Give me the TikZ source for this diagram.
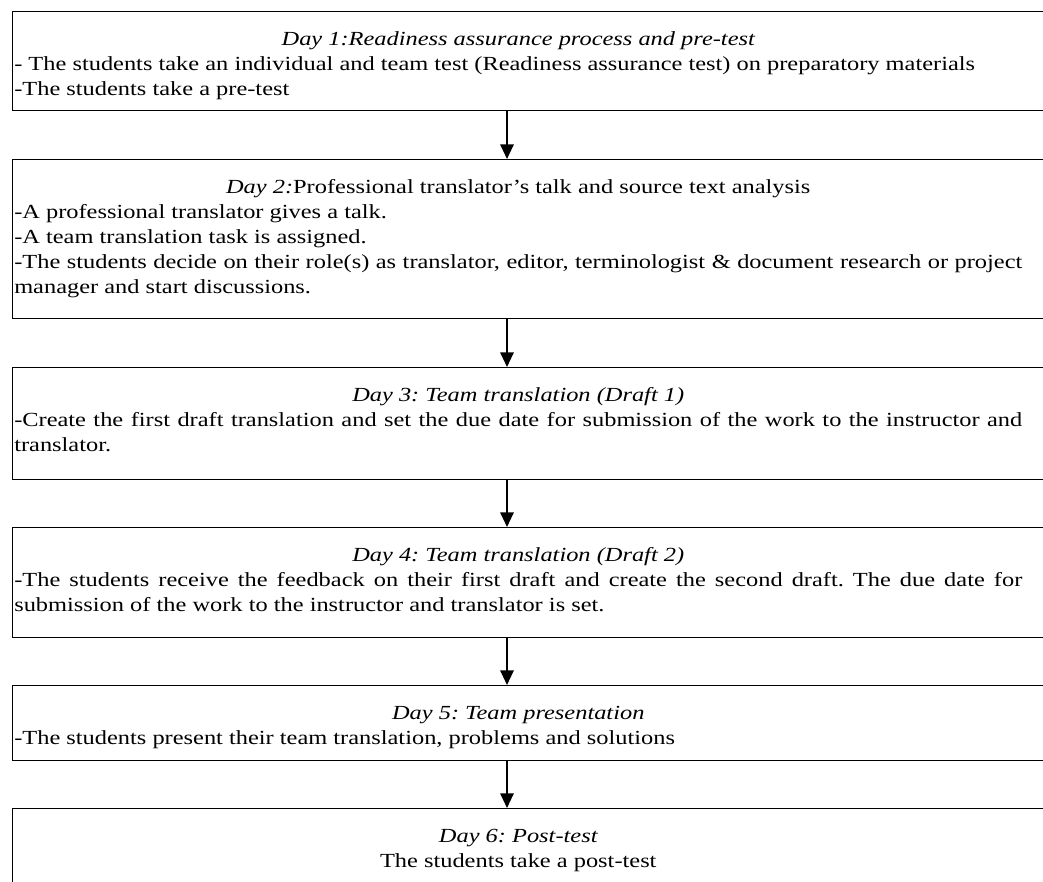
\documentclass[tikz,border=0pt]{standalone}
\usepackage{fontspec}
\setmainfont[FakeStretch=1.22]{Liberation Serif}
\usetikzlibrary{arrows.meta}
\newlength\tw \setlength\tw{756pt}
\newcommand\hdr[1]{\makebox[\tw]{#1}}
\frenchspacing
\begin{document}
\begin{tikzpicture}[x=0.75pt,y=-0.75pt,
  stepbox/.style={draw, line width=1.1pt, anchor=north west, inner sep=0pt, minimum width=800pt},
  txt/.style={anchor=base west, inner sep=0pt, text width=\tw, align=justify, font=\fontsize{15}{18.75}\selectfont},
  flow/.style={line width=1.5pt, -{Triangle[length=11pt,width=10pt]}}]
\clip (0,0) rectangle (1043,882);
\fill[white] (0,0) rectangle (1043,882);
\coordinate (ax) at (507,0);
% boxes
\node[stepbox, minimum height={99*0.75pt}]  (b1) at (12,11) {};
\node[stepbox, minimum height={159*0.75pt}] (b2) at (12,159) {};
\node[stepbox, minimum height={112*0.75pt}] (b3) at (12,367) {};
\node[stepbox, minimum height={110*0.75pt}] (b4) at (12,527) {};
\node[stepbox, minimum height={75*0.75pt}]  (b5) at (12,685) {};
\node[stepbox, minimum height={200*0.75pt}] (b6) at (12,808) {};
% texts
\node[txt] (t1) at (14,45) {\hdr{\itshape Day 1:Readiness assurance process and pre-test}\\
- The students take an individual and team test (Readiness assurance test) on preparatory materials\\
-The students take a pre-test};
\node[txt] (t2) at (14,193) {\hdr{\textit{Day 2:}Professional translator’s talk and source text analysis}\\
-A professional translator gives a talk.\\
-A team translation task is assigned.\\
-The students decide on their role(s) as translator, editor, terminologist \& document research or project\linebreak
manager and start discussions.};
\node[txt] (t3) at (14,401) {\hdr{\itshape Day 3: Team translation (Draft 1)}\\
-Create the first draft translation and set the due date for submission of the work to the instructor and\linebreak
translator.};
\node[txt] (t4) at (14,561) {\hdr{\itshape Day 4: Team translation (Draft 2)}\\
-The students receive the feedback on their first draft and create the second draft. The due date for\linebreak
submission of the work to the instructor and translator is set.};
\node[txt] (t5) at (14,719) {\hdr{\itshape Day 5: Team presentation}\\
-The students present their team translation, problems and solutions};
\node[txt] (t6) at (14,842) {\hdr{\itshape Day 6: Post-test}\\
\hdr{The students take a post-test}};
% arrows
\draw[flow] (b1.south -| ax) -- (b2.north -| ax);
\draw[flow] (b2.south -| ax) -- (b3.north -| ax);
\draw[flow] (b3.south -| ax) -- (b4.north -| ax);
\draw[flow] (b4.south -| ax) -- (b5.north -| ax);
\draw[flow] (b5.south -| ax) -- (b6.north -| ax);
\end{tikzpicture}
\end{document}
